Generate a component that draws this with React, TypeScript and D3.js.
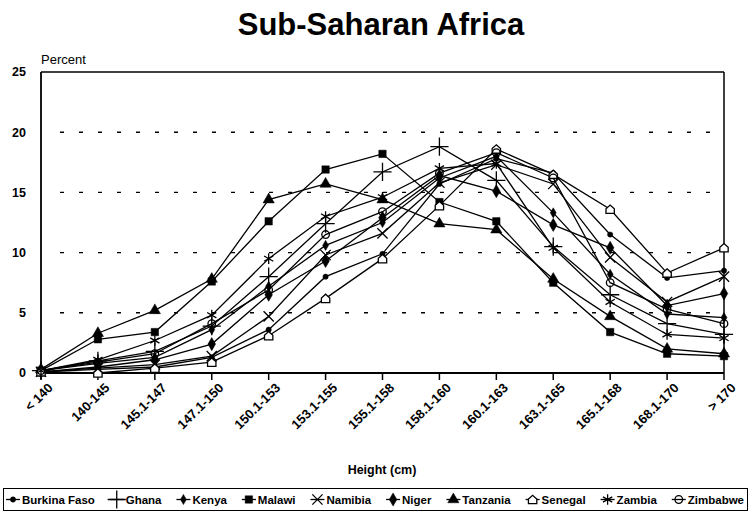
import React from "react";
import * as d3 from "d3";

// height classes (x axis)
const categories = [
  "< 140", "140-145", "145.1-147", "147.1-150", "150.1-153", "153.1-155", "155.1-158",
  "158.1-160", "160.1-163", "163.1-165", "165.1-168", "168.1-170", "> 170",
];

// percent of women in each height class
const burkinaFaso = [0.1, 0.3, 0.5, 1.3, 3.6, 8.0, 9.9, 15.7, 17.8, 16.6, 11.5, 7.9, 8.5];
const ghana = [0.2, 1.0, 1.8, 3.9, 8.0, 12.4, 16.7, 18.8, 16.0, 10.5, 6.5, 4.1, 3.2];
const kenya = [0.2, 0.8, 1.3, 3.6, 7.2, 10.6, 12.5, 16.2, 18.0, 13.3, 8.2, 4.9, 4.6];
const malawi = [0.2, 2.8, 3.4, 7.6, 12.6, 16.9, 18.2, 14.2, 12.6, 7.5, 3.4, 1.6, 1.4];
const namibia = [0.1, 0.4, 0.7, 1.4, 4.7, 9.8, 11.6, 15.8, 17.3, 15.7, 9.6, 5.9, 8.0];
const niger = [0.1, 0.5, 1.1, 2.4, 6.5, 9.3, 12.9, 16.4, 15.1, 12.3, 10.4, 5.6, 6.6];
const tanzania = [0.3, 3.3, 5.2, 7.8, 14.4, 15.7, 14.4, 12.4, 11.9, 7.8, 4.7, 2.0, 1.6];
const senegal = [0.1, 0.0, 0.4, 0.9, 3.1, 6.2, 9.5, 13.9, 18.6, 16.5, 13.6, 8.3, 10.4];
const zambia = [0.2, 1.1, 2.7, 4.8, 9.5, 13.0, 14.6, 17.0, 17.4, 10.4, 5.9, 3.2, 2.9];
const zimbabwe = [0.2, 0.9, 1.6, 4.1, 6.9, 11.5, 13.4, 16.6, 18.3, 16.2, 7.5, 5.3, 4.1];

const yTicks = [0, 5, 10, 15, 20, 25];
const gridTicks = [5, 10, 15, 20];

// "house" marker used for Senegal
const symbolHouse = {
  draw(ctx: any, size: number) {
    const r = Math.sqrt(size) / 2;
    ctx.moveTo(-r, r);
    ctx.lineTo(r, r);
    ctx.lineTo(r, -0.1 * r);
    ctx.lineTo(0, -r);
    ctx.lineTo(-r, -0.1 * r);
    ctx.closePath();
  },
};

type Marker = { type: any; size: number; filled: boolean; fill?: string };

const series: { name: string; values: number[]; marker: Marker }[] = [
  { name: "Burkina Faso", values: burkinaFaso, marker: { type: d3.symbolCircle, size: 22, filled: true } },
  { name: "Ghana", values: ghana, marker: { type: d3.symbolPlus, size: 110, filled: false } },
  { name: "Kenya", values: kenya, marker: { type: d3.symbolDiamond, size: 30, filled: true } },
  { name: "Malawi", values: malawi, marker: { type: d3.symbolSquare, size: 55, filled: true } },
  { name: "Namibia", values: namibia, marker: { type: d3.symbolTimes, size: 70, filled: false } },
  { name: "Niger", values: niger, marker: { type: d3.symbolDiamond, size: 50, filled: true } },
  { name: "Tanzania", values: tanzania, marker: { type: d3.symbolTriangle, size: 55, filled: true } },
  { name: "Senegal", values: senegal, marker: { type: symbolHouse, size: 70, filled: false, fill: "#fff" } },
  { name: "Zambia", values: zambia, marker: { type: d3.symbolAsterisk, size: 80, filled: false } },
  { name: "Zimbabwe", values: zimbabwe, marker: { type: d3.symbolCircle, size: 45, filled: false } },
];

const FONT = "'Liberation Sans', Arial, Helvetica, sans-serif";
const LEGEND_FONT_SIZE = 11.5;

// measure text widths so the legend entries can be spread across the box
let measureCtx: CanvasRenderingContext2D | null = null;
function textWidth(s: string, size: number) {
  if (!measureCtx && typeof document !== "undefined") {
    measureCtx = document.createElement("canvas").getContext("2d");
  }
  if (!measureCtx) return s.length * size * 0.6;
  measureCtx.font = `bold ${size}px ${FONT}`;
  return measureCtx.measureText(s).width;
}

function MarkerPath({ m, cx, cy }: { m: Marker; cx: number; cy: number }) {
  const d = d3.symbol().type(m.type).size(m.size)() || "";
  return (
    <path
      d={d}
      transform={`translate(${cx},${cy})`}
      fill={m.filled ? "#000" : m.fill || "none"}
      stroke="#000"
      strokeWidth={m.filled ? 0.5 : 1.3}
    />
  );
}

export default function App() {
  const W = 751;
  const H = 519;
  const left = 41;
  const right = 724;
  const top = 72;
  const bottom = 373;

  const x = d3.scalePoint<string>().domain(categories).range([left, right]).padding(0);
  const y = d3.scaleLinear().domain([0, 25]).range([bottom, top]);

  const line = d3
    .line<number>()
    .x((_, i) => x(categories[i]) as number)
    .y((d) => y(d));

  // legend layout: symbol (14px) + 2px + text, gaps spread evenly between 6 and 744
  const symW = 14;
  const widths = series.map((s) => symW + 2 + textWidth(s.name, LEGEND_FONT_SIZE));
  const legendStart = 6;
  const legendEnd = 744;
  const gap = (legendEnd - legendStart - d3.sum(widths)) / (series.length - 1);
  const legendPos: number[] = [];
  let acc = legendStart;
  widths.forEach((w) => {
    legendPos.push(acc);
    acc += w + gap;
  });

  return (
    <svg
      width={W}
      height={H}
      viewBox={`0 0 ${W} ${H}`}
      style={{ position: "absolute", left: 0, top: 0, background: "#fff", fontFamily: FONT }}
    >
      <rect width={W} height={H} fill="#fff" />

      {/* title */}
      <text x={381} y={35} textAnchor="middle" fontSize={31} fontWeight="bold">
        Sub-Saharan Africa
      </text>

      <text x={41} y={64} fontSize={13}>
        Percent
      </text>

      {/* gridlines */}
      {gridTicks.map((t) => (
        <line
          key={t}
          x1={left + 19}
          x2={right - 8}
          y1={y(t)}
          y2={y(t)}
          stroke="#000"
          strokeWidth={1.4}
          strokeDasharray="4 15"
        />
      ))}

      {/* frame */}
      <line x1={left} x2={right} y1={top} y2={top} stroke="#000" strokeWidth={1.5} />
      <line x1={right} x2={right} y1={top} y2={bottom} stroke="#000" strokeWidth={1.5} />
      <line x1={left} x2={left} y1={top} y2={bottom} stroke="#000" strokeWidth={1.8} />
      <line x1={left} x2={right} y1={bottom} y2={bottom} stroke="#000" strokeWidth={1.8} />

      {/* y ticks */}
      {yTicks.map((t) => (
        <text key={t} x={26} y={y(t)} dy="0.35em" textAnchor="end" fontSize={12.5} fontWeight="bold">
          {t}
        </text>
      ))}

      {/* x ticks + labels */}
      {categories.map((c) => {
        const cx = x(c) as number;
        return (
          <g key={c}>
            <line x1={cx} x2={cx} y1={bottom} y2={bottom + 7} stroke="#000" strokeWidth={1.5} />
            <text
              transform={`translate(${cx + 6},${bottom + 9}) rotate(-45)`}
              textAnchor="end"
              dy="0.71em"
              fontSize={13}
              fontWeight="bold"
            >
              {c}
            </text>
          </g>
        );
      })}

      <text x={382} y={474} textAnchor="middle" fontSize={12.5} fontWeight="bold">
        Height (cm)
      </text>

      {/* series lines */}
      {series.map((s) => (
        <path key={s.name} d={line(s.values) || ""} fill="none" stroke="#000" strokeWidth={1.3} />
      ))}
      {/* series markers */}
      {series.map((s) =>
        s.values.map((v, i) => (
          <MarkerPath key={s.name + i} m={s.marker} cx={x(categories[i]) as number} cy={y(v)} />
        ))
      )}

      {/* legend */}
      <rect x={3.5} y={488.5} width={744} height={22} fill="#fff" stroke="#000" strokeWidth={1} />
      {series.map((s, i) => {
        const x0 = legendPos[i];
        const cx = x0 + symW / 2;
        return (
          <g key={s.name}>
            <line x1={x0} x2={x0 + symW} y1={499.5} y2={499.5} stroke="#000" strokeWidth={1.3} />
            <MarkerPath m={s.marker} cx={cx} cy={499.5} />
            <text x={x0 + symW + 2} y={503.5} fontSize={LEGEND_FONT_SIZE} fontWeight="bold">
              {s.name}
            </text>
          </g>
        );
      })}
    </svg>
  );
}
